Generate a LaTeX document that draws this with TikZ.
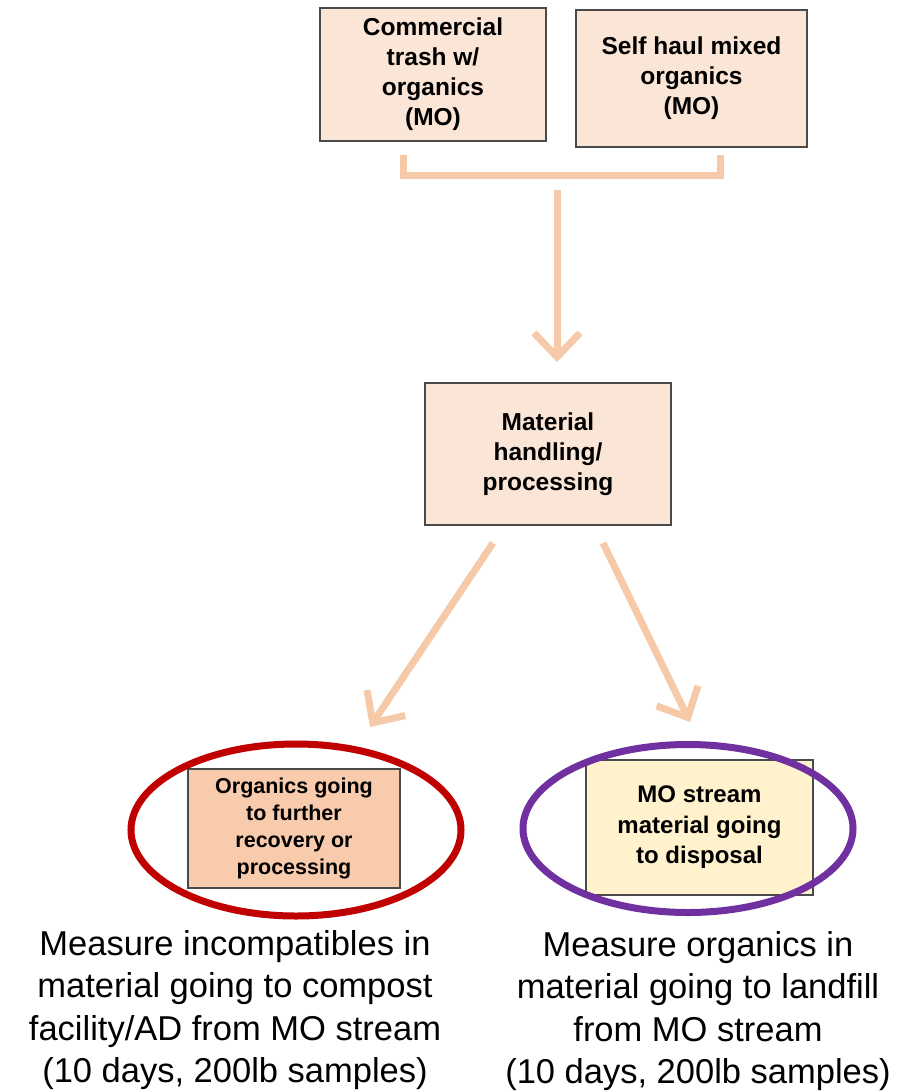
\documentclass[tikz,border=0pt]{standalone}
\usepackage{fontspec}
\setmainfont{Liberation Sans}
\usetikzlibrary{arrows.meta}
\definecolor{boxfill}{HTML}{FBE5D6}
\definecolor{orgfill}{HTML}{F8CBAD}
\definecolor{dispfill}{HTML}{FFF2CC}
\definecolor{boxline}{HTML}{4A4A4A}
\definecolor{flow}{HTML}{F6C9A8}
\definecolor{ringred}{HTML}{C00000}
\definecolor{ringpurple}{HTML}{7030A0}
\tikzset{
  stagebox/.style={draw=boxline, line width=2pt, fill=boxfill, align=center,
    inner sep=0pt, font=\fontsize{24.5}{30}\selectfont\bfseries},
  outbox/.style={stagebox, font=\fontsize{21.5}{27}\selectfont\bfseries},
  flowline/.style={draw=flow, line width=7pt},
  flowarrow/.style={flowline, -{Straight Barb[length=24pt,width=46pt]}},
  ring/.style={line width=7pt},
  note/.style={align=center, inner sep=0pt, anchor=north,
    font=\fontsize{34.5}{42.5}\selectfont}
}
\begin{document}
\begin{tikzpicture}[x=1pt,y=-1pt]
\useasboundingbox (0,0) rectangle (907,1092);
\fill[white] (0,0) rectangle (907,1092);

% source streams
\node[stagebox, minimum width=226pt, minimum height=133pt] (trash) at (433,74.5)
  {Commercial\\trash w/\\organics\\(MO)};
\node[stagebox, minimum width=231pt, minimum height=137pt] (selfhaul) at (691.5,78.5)
  {Self haul mixed\\organics\\(MO)};

% bracket joining the two streams
\coordinate (bl) at (403,155);
\coordinate (br) at (720,155);
\coordinate (bj) at (557,190);
\draw[flowline] (bl) -- (403,175) -- (720,175) -- (br);

% processing stage
\node[stagebox, minimum width=246pt, minimum height=142pt] (proc) at (548,454)
  {Material\\handling/\\processing};
\draw[flowarrow] (bj) -- (557,362);

% outputs
\node[outbox, fill=orgfill, minimum width=212pt, minimum height=119pt] (organics) at (294,828.5)
  {Organics going\\to further\\recovery or\\processing};
\node[stagebox, fill=dispfill, minimum width=227pt, minimum height=135pt,
  font=\fontsize{24}{30.5}\selectfont\bfseries] (disposal) at (699.5,827.5)
  {MO stream\\material going\\to disposal};

\coordinate (ls) at (493,543);
\coordinate (le) at (370,727);
\coordinate (rs) at (603,543);
\coordinate (re) at (690,722);
\draw[flowarrow] (ls) -- (le);
\draw[flowarrow] (rs) -- (re);

% highlight rings
\draw[ring, ringred] (organics.center) ++(2,1.5) ellipse [x radius=165pt, y radius=86pt];
\draw[ring, ringpurple] (disposal.center) ++(-11.5,1) ellipse [x radius=165pt, y radius=84pt];

% measurement notes
\node[note] (noteL) at (235,930)
  {Measure incompatibles in\\material going to compost\\facility/AD from MO stream\\(10 days, 200lb samples)};
\node[note] (noteR) at (698,931)
  {Measure organics in\\material going to landfill\\from MO stream\\(10 days, 200lb samples)};
\end{tikzpicture}
\end{document}
